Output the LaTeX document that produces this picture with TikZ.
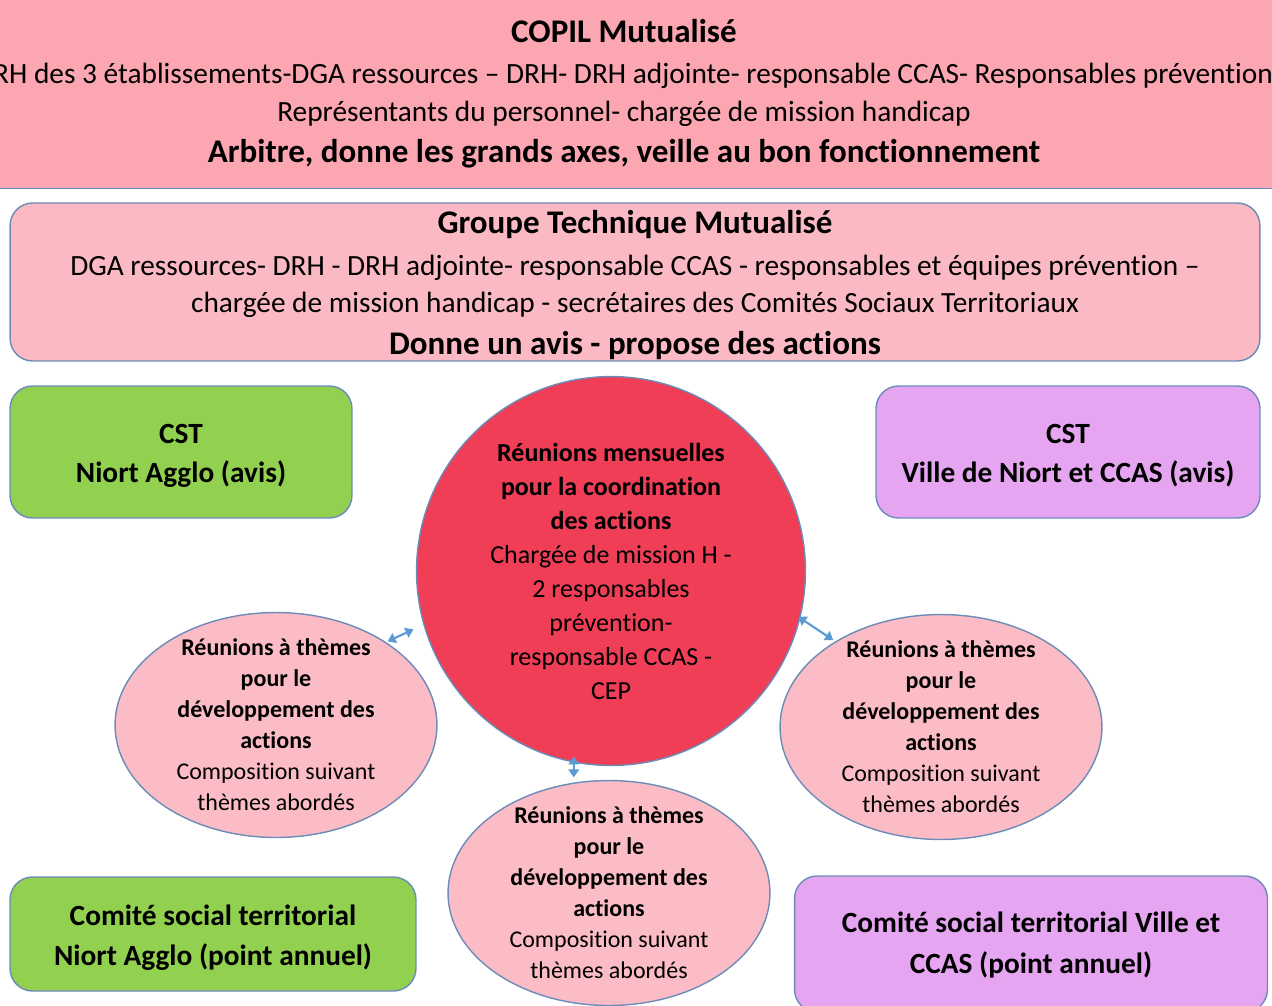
\documentclass[tikz,border=0pt]{standalone}
\usepackage{fontspec}
\setmainfont{Carlito}[Ligatures=NoCommon]
\usetikzlibrary{shapes.geometric, arrows.meta}
\definecolor{copil-pink}{HTML}{FBA6B1}
\definecolor{group-pink}{HTML}{FBBAC3}
\definecolor{cst-green}{HTML}{92D050}
\definecolor{cst-violet}{HTML}{E6A5F0}
\definecolor{coord-red}{HTML}{EF3E55}
\definecolor{theme-pink}{HTML}{FBBCC5}
\definecolor{edge-blue}{HTML}{6B8CB8}
\definecolor{link-blue}{HTML}{5B9BD5}
\newcommand{\fsz}[2]{\fontsize{#1}{#2}\selectfont}

\begin{document}
\begin{tikzpicture}[x=0.02cm, y=-0.02cm,
    every node/.style={inner sep=0pt, align=center, text=black},
    box/.style={draw=edge-blue, line width=0.8pt, rounded corners=0.45cm},
    theme/.style={ellipse, draw=edge-blue, line width=0.8pt, fill=theme-pink,
      minimum width=6.44cm, minimum height=4.5cm},
    link/.style={{Triangle[length=4.5pt, width=6pt]}-{Triangle[length=4.5pt, width=6pt]},
      link-blue, line width=1.2pt}]
  \useasboundingbox (0,0) rectangle (1272,1005);
  \clip (0,0) rectangle (1272,1005);

  % COPIL banner, wider than the page on both sides
  \node[fill=copil-pink, minimum width=28cm, minimum height=4cm] (COPIL) at (624,88) {};
  \draw[edge-blue, line width=0.8pt] (COPIL.south west) -- (COPIL.south east);
  \node[font=\fsz{16.7}{21.6}] (COPILtxt) at (624,94)
    {{\fsz{18.8}{21.6}\bfseries COPIL Mutualisé}\\[1.7pt]
     DRH des 3 établissements-DGA ressources – DRH- DRH adjointe- responsable CCAS- Responsables prévention\\
     Représentants du personnel- chargée de mission handicap\\[1.7pt]
     {\fsz{18.8}{21.6}\bfseries Arbitre, donne les grands axes, veille au bon fonctionnement}};

  \node[box, fill=group-pink, minimum width=25cm, minimum height=3.16cm] (GTM) at (635,282) {};
  \node[font=\fsz{16.7}{21.1}] (GTMtxt) at (635,285)
    {{\fsz{18.8}{21.1}\bfseries Groupe Technique Mutualisé}\\[2.8pt]
     DGA ressources- DRH - DRH adjointe- responsable CCAS - responsables et équipes prévention –\\
     chargée de mission handicap - secrétaires des Comités Sociaux Territoriaux\\[2.8pt]
     {\fsz{18.8}{21.1}\bfseries Donne un avis - propose des actions}};

  % avis boxes
  \node[box, fill=cst-green, minimum width=6.84cm, minimum height=2.64cm] (CSTagglo) at (181,452) {};
  \node[font=\fsz{16.7}{22.2}\bfseries] (CSTagglotxt) at (181,456) {CST\\Niort Agglo (avis)};
  \node[box, fill=cst-violet, minimum width=7.68cm, minimum height=2.64cm] (CSTville) at (1068,452) {};
  \node[font=\fsz{16.7}{22.2}\bfseries] (CSTvilletxt) at (1068,456) {CST\\Ville de Niort et CCAS (avis)};

  % point annuel boxes
  \node[box, fill=cst-green, minimum width=8.12cm, minimum height=2.28cm] (CSagglo) at (213,934) {};
  \node[font=\fsz{16.7}{22.8}\bfseries] (CSagglotxt) at (213,938)
    {Comité social territorial\\Niort Agglo (point annuel)};
  \node[box, fill=cst-violet, minimum width=9.46cm, minimum height=2.72cm] (CSville) at (1031,944) {};
  \node[font=\fsz{16.7}{22.8}\bfseries] (CSvilletxt) at (1031,945)
    {Comité social territorial Ville et\\CCAS (point annuel)};

  % monthly coordination
  \node[circle, draw=edge-blue, line width=0.8pt, fill=coord-red,
        minimum size=7.78cm, font=\fsz{14.8}{19.35}] (REU) at (611,571)
    {\textbf{Réunions mensuelles}\\\textbf{pour la coordination}\\\textbf{des actions}\\
     Chargée de mission H -\\2 responsables\\prévention-\\responsable CCAS -\\CEP};

  % theme meetings
  \node[theme] (THg) at (276,725) {};
  \node[theme] (THd) at (941,727) {};
  \node[theme] (THb) at (609,893) {};
  \foreach \th in {THg, THd, THb}
    \node[font=\fsz{13.66}{17.64}] (\th txt) at (\th)
      {\textbf{Réunions à thèmes}\\\textbf{pour le}\\\textbf{développement des}\\\textbf{actions}\\
       Composition suivant\\thèmes abordés};

  \draw[link, shorten <=1pt, shorten >=0.22cm] (THg.37) -- (REU.196);
  \draw[link, shorten <=-0.05cm, shorten >=0.05cm] (REU.346) -- (THd.141);
  \draw[link, shorten <=-0.12cm, shorten >=0.05cm] (REU.259) -- (REU.259 |- THb.north);
\end{tikzpicture}
\end{document}
